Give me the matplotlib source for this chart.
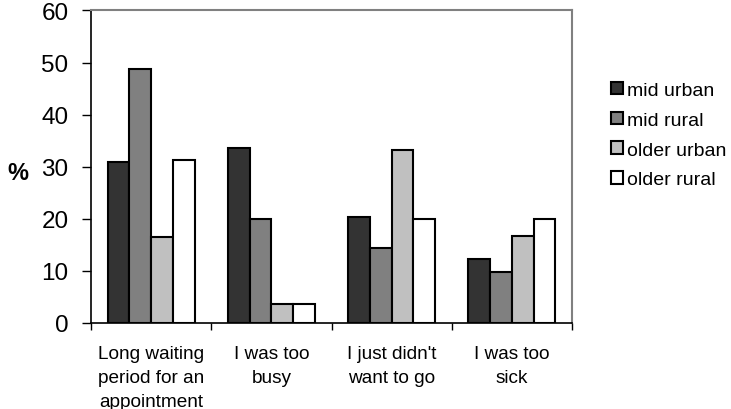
"""
Reasons for not visiting a doctor, by age group and area (grouped bar chart).
"""

import matplotlib

matplotlib.use("Agg")
import matplotlib.pyplot as plt
import numpy as np

plt.rcParams["font.family"] = ["Liberation Sans", "DejaVu Sans"]

CATEGORIES = [
    "Long waiting\nperiod for an\nappointment",
    "I was too\nbusy",
    "I just didn't\nwant to go",
    "I was too\nsick",
]
SERIES = ["mid urban", "mid rural", "older urban", "older rural"]
MID_URBAN = [30.9, 33.6, 20.3, 12.2]
MID_RURAL = [48.8, 20.0, 14.3, 9.8]
OLDER_URBAN = [16.5, 3.7, 33.2, 16.6]
OLDER_RURAL = [31.3, 3.6, 20.0, 20.0]
COLORS = ["#333333", "#808080", "#c0c0c0", "#ffffff"]


def main() -> None:
    fig = plt.figure(figsize=(7.31, 4.10), dpi=100)
    ax = fig.add_axes([0.125, 0.21, 0.657, 0.762])

    values = [MID_URBAN, MID_RURAL, OLDER_URBAN, OLDER_RURAL]
    x = np.arange(len(CATEGORIES))
    width = 0.1825
    offsets = (np.arange(len(SERIES)) - 1.5) * width

    for vals, off, color, name in zip(values, offsets, COLORS, SERIES):
        ax.bar(x + off, vals, width, color=color, edgecolor="black",
               linewidth=1.5, label=name, zorder=3)

    ax.set_xlim(-0.5, len(CATEGORIES) - 0.5)
    ax.set_ylim(0, 60)
    ax.set_yticks(range(0, 61, 10))
    ax.tick_params(axis="y", labelsize=17.5, length=6.5, width=1,
                   direction="out", pad=10)

    # x ticks sit at category boundaries, labels centred under groups
    ax.set_xticks(np.arange(-0.5, len(CATEGORIES), 1.0))
    ax.set_xticklabels([])
    ax.set_xticks(x, minor=True)
    ax.set_xticklabels(CATEGORIES, minor=True, fontsize=13.7, linespacing=1.55)
    ax.tick_params(axis="x", which="major", length=5, width=1, direction="out")
    ax.tick_params(axis="x", which="minor", length=0, pad=16)

    for side in ["top", "right"]:
        ax.spines[side].set_color("#808080")
        ax.spines[side].set_linewidth(1.5)
    for side in ["left", "bottom"]:
        ax.spines[side].set_color("black")
        ax.spines[side].set_linewidth(1.2)

    fig.text(0.024, 0.578, "%", fontsize=17, fontweight="bold",
             ha="center", va="center")

    fig.legend(
        loc="upper left",
        bbox_to_anchor=(0.8354, 0.798),
        frameon=False,
        fontsize=14,
        handlelength=0.62,
        handleheight=0.62,
        handletextpad=0.23,
        labelspacing=0.65,
        borderpad=0,
        borderaxespad=0,
    )

    fig.savefig("out.png", dpi=100)
    plt.close(fig)


if __name__ == "__main__":
    main()
